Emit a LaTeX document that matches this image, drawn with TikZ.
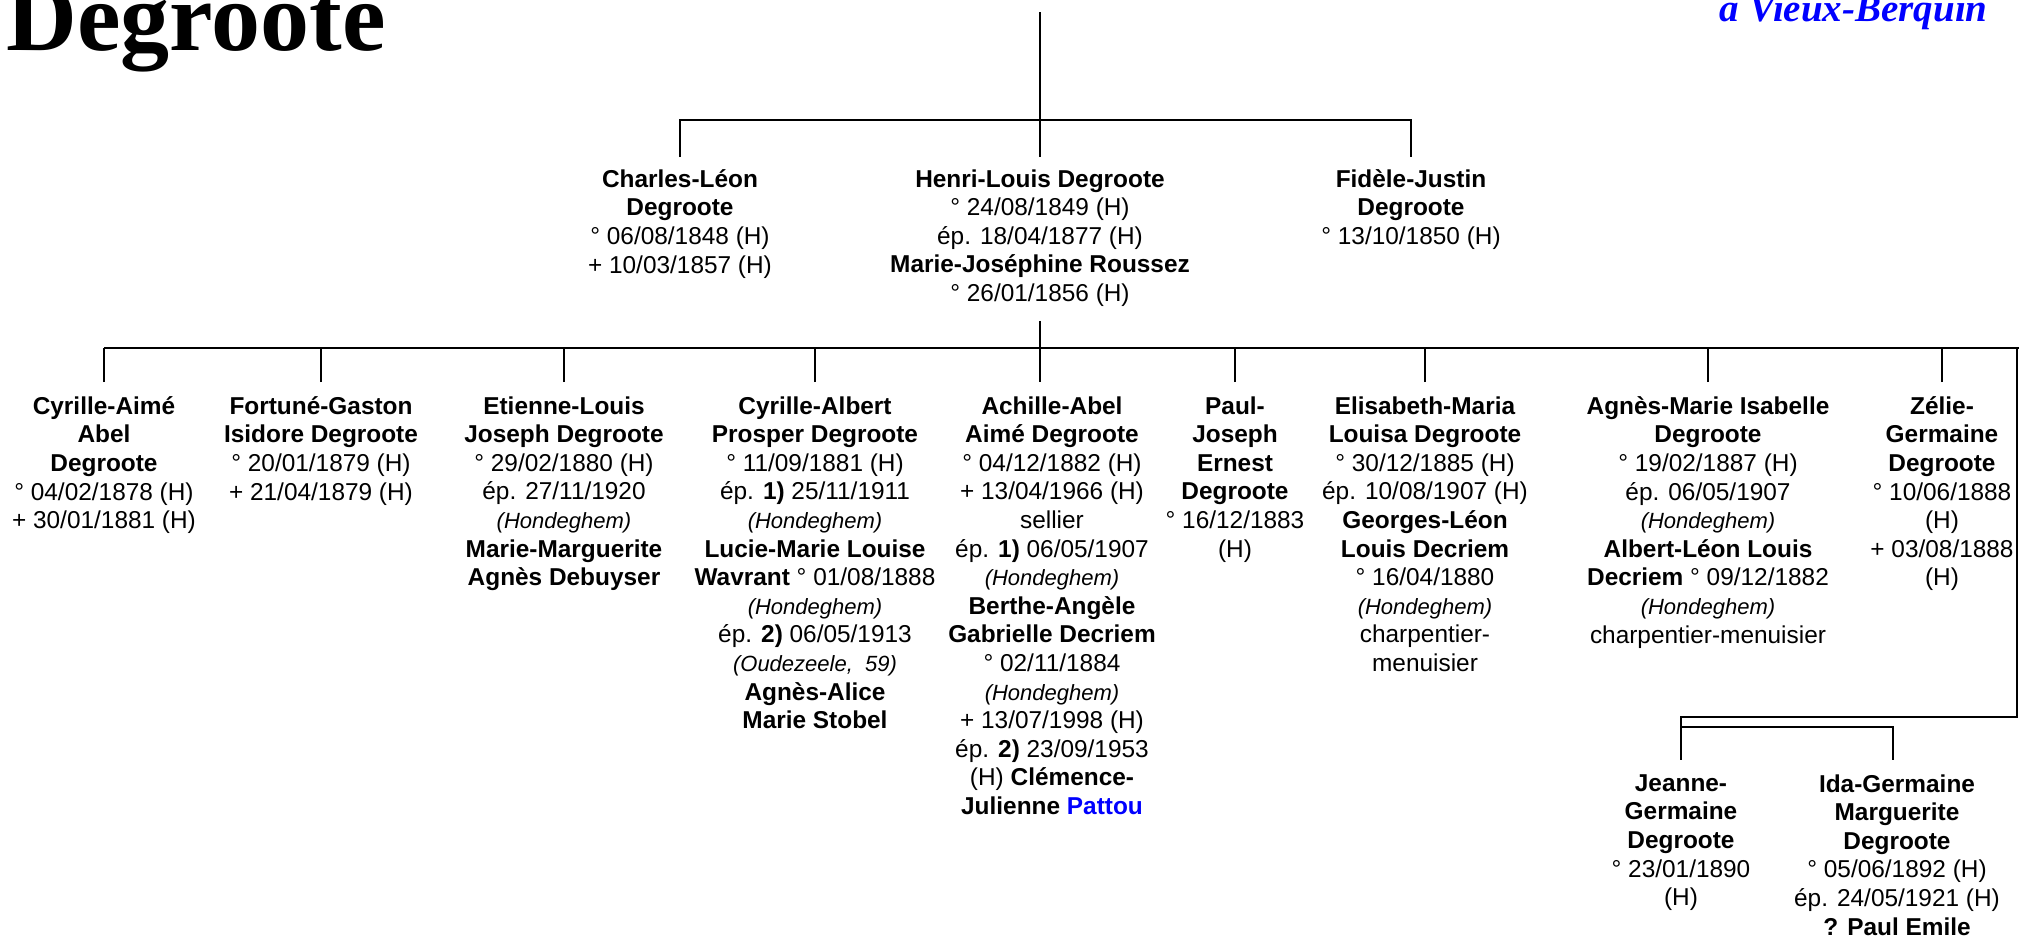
\documentclass[tikz,border=0pt]{standalone}
\usepackage{fontspec}
\usepackage{graphicx}
\setmainfont{Liberation Sans}
\newfontfamily\titlefont{Liberation Serif}
\usetikzlibrary{calc}
\definecolor{placeblue}{RGB}{0,0,255}
\newcommand\plc[1]{{\fontsize{11}{14.3}\selectfont\itshape #1}}
\begin{document}
\begin{tikzpicture}[x=0.5pt,y=-0.5pt,
  link/.style={line width=1.4pt},
  person/.style={align=center, inner sep=0pt, anchor=north,
    font=\fontsize{12.2}{14.3}\selectfont,
    execute at begin node={\rule{0pt}{10pt}}},
]
\useasboundingbox (0,0) rectangle (2019,938);
\fill[white] (0,0) rectangle (2019,938);

% titles
\node[anchor=base west, inner sep=0pt, font=\titlefont\bfseries\fontsize{49}{50}\selectfont] (title) at (6,50) {Degroote};
\node[anchor=base east, inner sep=0pt, text=placeblue, font=\titlefont\bfseries\itshape\fontsize{19.5}{20}\selectfont] (place) at (1988,21) {à Vieux-Berquin};

% generation 1
\node[person] (charles) at (680,169) {\textbf{Charles-Léon}\\\textbf{Degroote}\\° 06/08/1848 (H)\\+ 10/03/1857 (H)};
\node[person] (henri) at (1040,169) {\textbf{Henri-Louis Degroote}\\° 24/08/1849 (H)\\ép. 18/04/1877 (H)\\\textbf{Marie-Joséphine Roussez}\\° 26/01/1856 (H)};
\node[person] (fidele) at (1411,169) {\textbf{Fidèle-Justin}\\\textbf{Degroote}\\° 13/10/1850 (H)};

% generation 2
\node[person] (cyA) at (104,396) {\textbf{Cyrille-Aimé}\\\textbf{Abel}\\\textbf{Degroote}\\° 04/02/1878 (H)\\+ 30/01/1881 (H)};
\node[person] (fort) at (321,396) {\textbf{Fortuné-Gaston}\\\textbf{Isidore Degroote}\\° 20/01/1879 (H)\\+ 21/04/1879 (H)};
\node[person] (etie) at (564,396) {\textbf{Etienne-Louis}\\\textbf{Joseph Degroote}\\° 29/02/1880 (H)\\ép. 27/11/1920\\\plc{(Hondeghem)}\\\textbf{Marie-Marguerite}\\\textbf{Agnès Debuyser}};
\node[person] (cyAl) at (815,396) {\textbf{Cyrille-Albert}\\\textbf{Prosper Degroote}\\° 11/09/1881 (H)\\ép. \textbf{1)} 25/11/1911\\\plc{(Hondeghem)}\\\textbf{Lucie-Marie Louise}\\\textbf{Wavrant} ° 01/08/1888\\\plc{(Hondeghem)}\\ép. \textbf{2)} 06/05/1913\\\plc{(Oudezeele,\ \ 59)}\\\textbf{Agnès-Alice}\\\textbf{Marie Stobel}};
\node[person] (achi) at (1052,396) {\textbf{Achille-Abel}\\\textbf{Aimé Degroote}\\° 04/12/1882 (H)\\+ 13/04/1966 (H)\\sellier\\ép. \textbf{1)} 06/05/1907\\\plc{(Hondeghem)}\\\textbf{Berthe-Angèle}\\\textbf{Gabrielle Decriem}\\° 02/11/1884\\\plc{(Hondeghem)}\\+ 13/07/1998 (H)\\ép. \textbf{2)} 23/09/1953\\(H) \textbf{Clémence-}\\\textbf{Julienne} \textbf{\textcolor{placeblue}{Pattou}}};
\node[person] (paul) at (1235,396) {\textbf{Paul-}\\\textbf{Joseph}\\\textbf{Ernest}\\\textbf{Degroote}\\° 16/12/1883\\(H)};
\node[person] (elis) at (1425,396) {\textbf{Elisabeth-Maria}\\\textbf{Louisa Degroote}\\° 30/12/1885 (H)\\ép. 10/08/1907 (H)\\\textbf{Georges-Léon}\\\textbf{Louis Decriem}\\° 16/04/1880\\\plc{(Hondeghem)}\\charpentier-\\menuisier};
\node[person] (agne) at (1708,396) {\textbf{Agnès-Marie Isabelle}\\\textbf{Degroote}\\° 19/02/1887 (H)\\ép. 06/05/1907\\\plc{(Hondeghem)}\\\textbf{Albert-Léon Louis}\\\textbf{Decriem} ° 09/12/1882\\\plc{(Hondeghem)}\\charpentier-menuisier};
\node[person] (zeli) at (1942,396) {\textbf{Zélie-}\\\textbf{Germaine}\\\textbf{Degroote}\\° 10/06/1888\\(H)\\+ 03/08/1888\\(H)};

% generation 3
\node[person] (jean) at (1681,774) {\textbf{Jeanne-}\\\textbf{Germaine}\\\textbf{Degroote}\\° 23/01/1890\\(H)};
\node[person] (ida) at (1897,774) {\textbf{Ida-Germaine}\\\textbf{Marguerite}\\\textbf{Degroote}\\° 05/06/1892 (H)\\ép. 24/05/1921 (H)\\\textbf{? Paul Emile}};

% connectors generation 1
\coordinate (top) at (1040,12);
\coordinate (bar1) at (1040,120);
\draw[link] (top) -- (bar1);
\draw[link] ($(charles.north)+(0,-12)$) |- (bar1) -| ($(fidele.north)+(0,-12)$);
\draw[link] (bar1) -- ($(henri.north)+(0,-12)$);

% connectors generation 2
\coordinate (bar2) at (1040,348);
\coordinate (bar2end) at (2019,348);
\draw[link] ($(henri.south)+(0,14)$) -- (bar2);
\draw[link] (cyA.north |- bar2) -- (bar2end);
\draw[link] (bar2) -- ($(bar2)+(0,34)$) coordinate (achitop);
\foreach \n in {cyA,fort,etie,cyAl,paul,elis,agne,zeli}
  \draw[link] ($(\n.north)+(0,-14)$) -- (\n.north |- bar2);

% connectors generation 3
\coordinate (rdown) at (2017,348);
\coordinate (g3a) at (2017,717);
\coordinate (g3b) at (1681,727);
\draw[link] (rdown) -- (g3a) -| ($(jean.north)+(0,-14)$);
\draw[link] (g3b) -| ($(ida.north)+(-4,-14)$);
\end{tikzpicture}
\end{document}
